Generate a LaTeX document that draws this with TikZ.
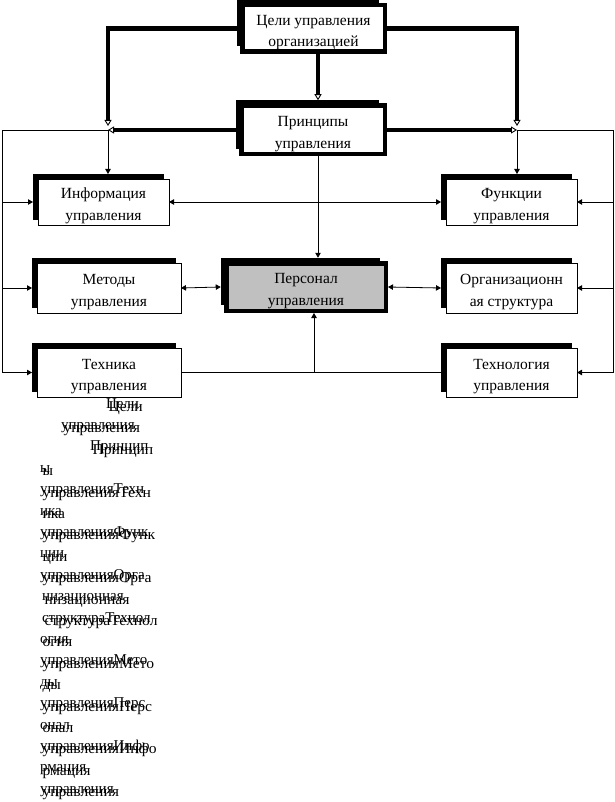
\documentclass[tikz,border=0pt]{standalone}
\usepackage{fontspec}
\usepackage{graphicx}
\setmainfont{Liberation Serif}
\usetikzlibrary{arrows.meta,shadows}
\newcommand{\topstrut}{\rule{0pt}{18pt}}
\tikzset{
  boxtext/.style={font=\fontsize{15.5}{21.5}\selectfont, align=center, inner sep=0pt, outer sep=0pt},
  thinbox/.style={boxtext, rectangle, draw=black, line width=0.8pt, fill=white,
    drop shadow={shadow xshift=-5pt, shadow yshift=5pt, fill=black, opacity=1}},
  thickbox/.style={boxtext, rectangle, draw=black, line width=4.5pt, fill=white,
    drop shadow={shadow xshift=-5.5pt, shadow yshift=5.5pt, fill=black, opacity=1}},
  thinline/.style={line width=0.8pt},
  thickline/.style={line width=4.5pt},
  tip/.style={-{Triangle[length=5pt,width=5.5pt]}},
  tipboth/.style={{Triangle[length=5pt,width=5.5pt]}-{Triangle[length=5pt,width=5.5pt]}},
  otip/.style={-{Triangle[open,length=6pt,width=7pt,line width=0.9pt]}},
  gtext/.style={font=\fontsize{15}{18}\selectfont, inner sep=0pt, outer sep=0pt, anchor=base west},
}
\begin{document}
\begin{tikzpicture}[x=1pt,y=-1pt]
\useasboundingbox (0,0) rectangle (614,802);

% boxes
\node[thickbox, minimum width=142.5pt, minimum height=46.5pt] (goals) at (313.5,28.5) {\topstrut Цели управления\\организацией};
\node[thickbox, minimum width=143.5pt, minimum height=48.5pt] (princ) at (313,130) {\topstrut Принципы\\управления};
\node[thickbox, fill={rgb,255:red,192;green,192;blue,192}, minimum width=159.5pt, minimum height=47.5pt] (pers) at (306,287) {\topstrut Персонал\\управления};
\node[thinbox, minimum width=131pt, minimum height=46pt] (info) at (103.5,202) {\topstrut Информация\\управления};
\node[thinbox, minimum width=131pt, minimum height=46pt] (func) at (511.5,202) {\topstrut Функции\\управления};
\node[thinbox, minimum width=144pt, minimum height=50pt] (meth) at (109,288) {\topstrut Методы\\управления};
\node[thinbox, minimum width=131pt, minimum height=50pt] (org) at (511.5,288) {\topstrut Организационн\\ая структура};
\node[thinbox, minimum width=144pt, minimum height=49pt] (tech) at (109,372.5) {\topstrut Техника\\управления};
\node[thinbox, minimum width=131pt, minimum height=49pt] (techn) at (511.5,372.5) {\topstrut Технология\\управления};

% junctions
\coordinate (L) at (108,130);
\coordinate (R) at (517,130);
\coordinate (LL) at (2,130);
\coordinate (RR) at (613,130);
\coordinate (mc) at (318,0);
\coordinate (bc) at (314,0);

% thick connectors
\draw[thickline, otip] (goals.west) -| ([yshift=4pt]L);
\draw[thickline, otip] (goals.east) -| ([yshift=4pt]R);
\draw[thickline, otip] (goals.south -| mc) -- ([yshift=5.5pt]princ.north -| mc);
\draw[thickline, otip] (princ.west) -- (L);
\draw[thickline, otip] (princ.east) -- (R);

% thin rails
\draw[thinline] (L) -- (LL) -- (LL |- tech.west);
\draw[thinline] (R) -- (RR) -- (RR |- techn.east);
\draw[thinline, tip] (L) -- ([yshift=5pt]info.north -| L);
\draw[thinline, tip] (R) -- ([yshift=5pt]func.north -| R);
\draw[thinline, tip] (info.west -| LL) -- ([xshift=-5pt]info.west);
\draw[thinline, tip] (meth.west -| LL) -- ([xshift=-5pt]meth.west);
\draw[thinline, tip] (tech.west -| LL) -- ([xshift=-5pt]tech.west);
\draw[thinline, tip] (func.east -| RR) -- (func.east);
\draw[thinline, tip] (org.east -| RR) -- (org.east);
\draw[thinline, tip] (techn.east -| RR) -- (techn.east);

% inner connectors
\draw[thinline, tipboth] (info.east) -- ([xshift=-5pt]func.west);
\draw[thinline, tipboth] (meth.east) -- ([xshift=-5.5pt]pers.west);
\draw[thinline, tipboth] ([xshift=2.25pt]pers.east) -- ([xshift=-5pt]org.west);
\draw[thinline] (tech.east) -- ([xshift=-5pt]techn.west);
\draw[thinline, tip] (tech.east -| bc) -- ([yshift=-2.25pt]pers.south -| bc);
\draw[thinline, tip] ([yshift=-2.25pt]princ.south -| mc) -- ([yshift=5.5pt]pers.north -| mc);

% doubled text below
\foreach \t/\x [count=\i] in {Цели/106, управления/61, Принцип/90, ы/40, управленияТехн/40, ика/40, управленияФунк/40, ции/40, управленияОрга/40, низационная/42, структураТехнол/42, огия/40, управленияМето/40, ды/40, управленияПерс/40, онал/40, управленияИнфо/40, рмация/40, управления/40}
{
  \pgfmathsetmacro\yb{408+21.4*(\i-1)}
  \node[gtext] (ga\i) at (\x,\yb) {\t};
  \node[gtext] (gb\i) at (\x+2.5,\yb+3.5) {\scalebox{1.04}[1]{\t}};
}
\end{tikzpicture}
\end{document}
